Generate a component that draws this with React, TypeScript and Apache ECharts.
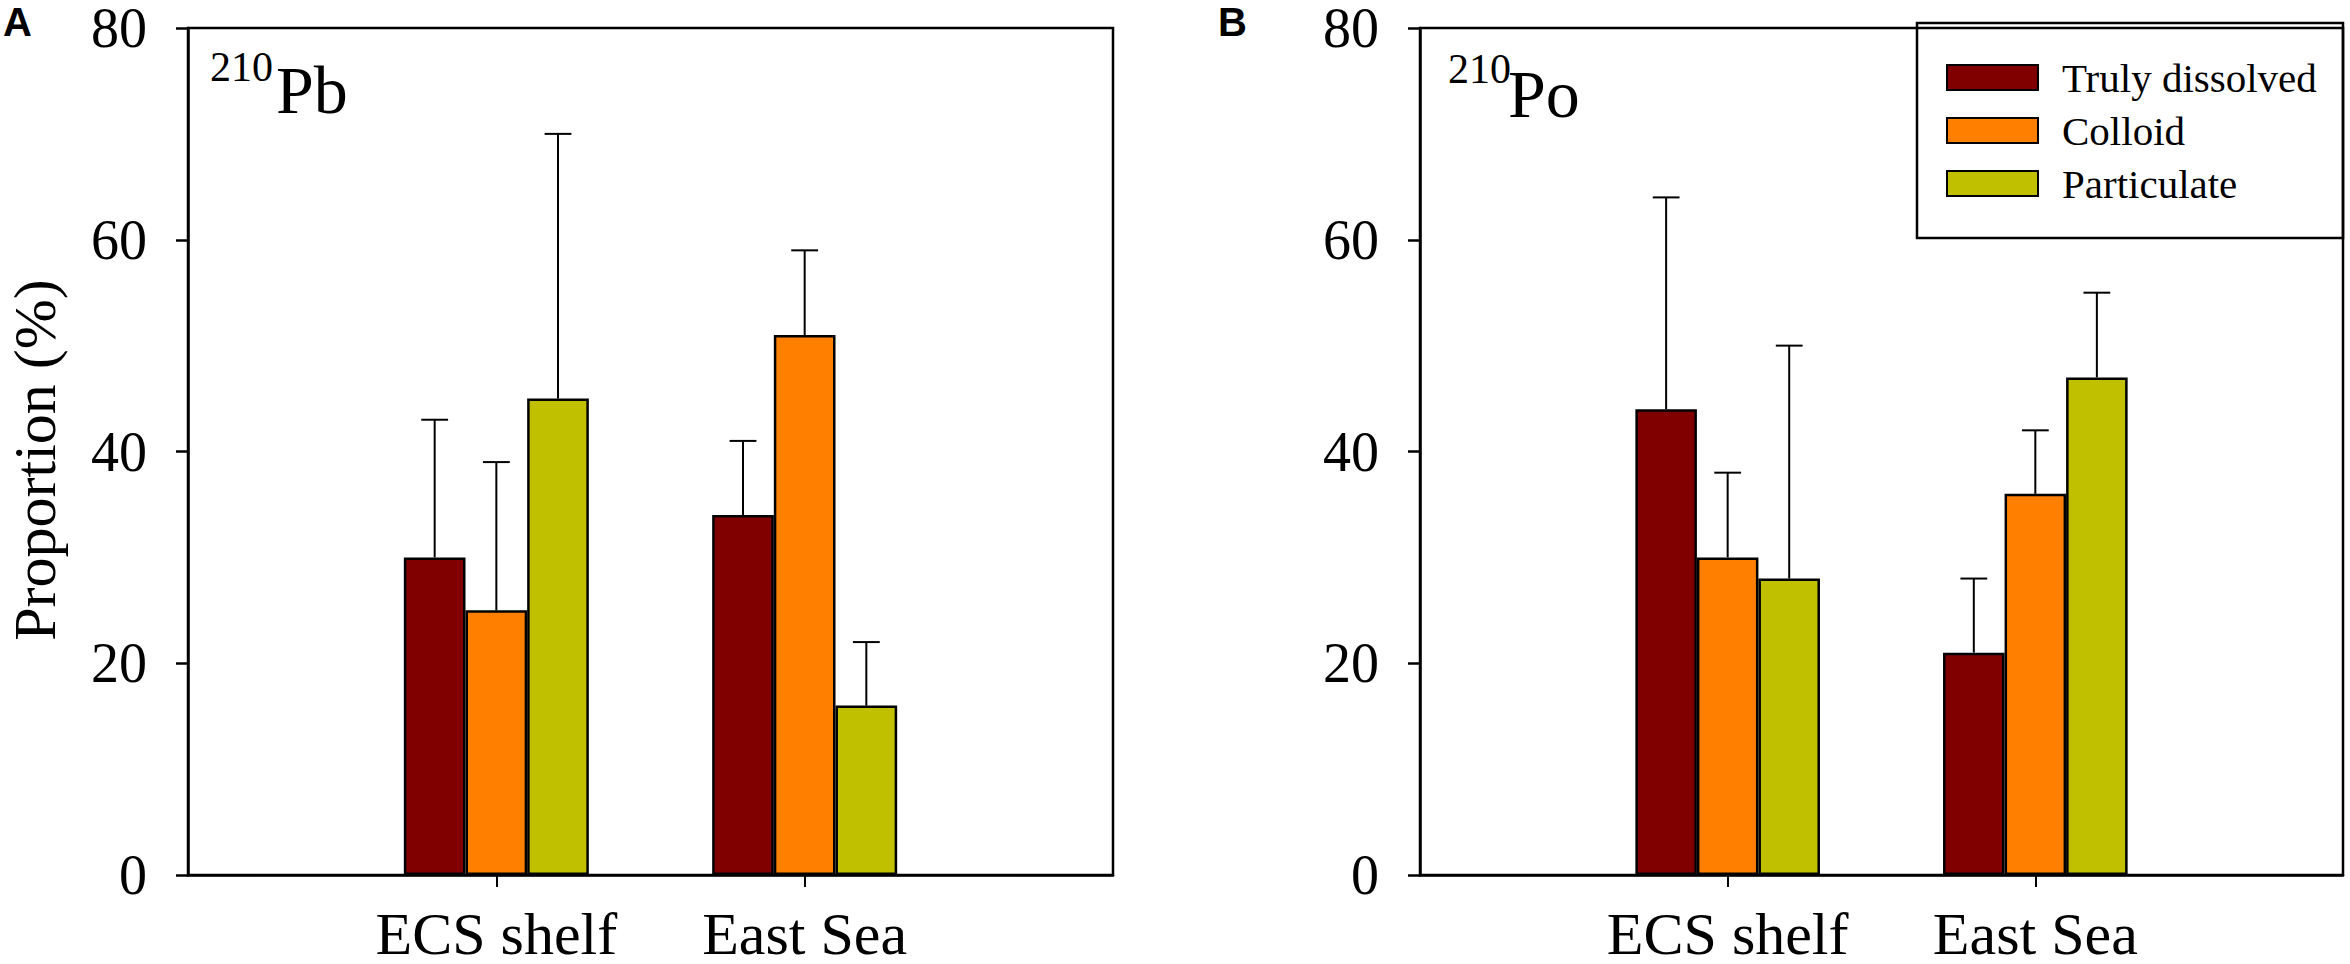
import React, { useEffect, useRef } from "react";
import * as echarts from "echarts";

const categories = ["ECS shelf", "East Sea"];
const seriesNames = ["Truly dissolved", "Colloid", "Particulate"];
const seriesColors = ["#800000", "#FF8000", "#C0C000"];

// 210Pb panel (A)
const pbTruly = [30, 34];
const pbColloid = [25, 51];
const pbParticulate = [45, 16];
const pbTrulyErr = [13, 7];
const pbColloidErr = [14, 8];
const pbParticulateErr = [25, 6];

// 210Po panel (B)
const poTruly = [44, 21];
const poColloid = [30, 36];
const poParticulate = [28, 47];
const poTrulyErr = [20, 7];
const poColloidErr = [8, 6];
const poParticulateErr = [22, 8];

const yTicks = [0, 20, 40, 60, 80];

const SERIF = "Liberation Serif";
const SANS = "Liberation Sans";

const catData = ["", ...categories, ""];

function padSeries(vals: number[]) {
  return ["-", ...vals, "-"];
}

function errData(means: number[][], errs: number[][]) {
  const out: number[][] = [];
  means.forEach((m, k) => {
    m.forEach((v, i) => {
      out.push([i + 1, k, v, v + errs[k][i]]);
    });
  });
  return out;
}

function renderErr(params: any, api: any) {
  const cat = api.value(0);
  const k = api.value(1);
  const v = api.value(2);
  const hi = api.value(3);
  const bw = api.size([1, 0])[0];
  const base = api.coord([cat, v]);
  const top = api.coord([cat, hi]);
  const x = base[0] + (k - 1) * bw * 0.2;
  const half = bw * 0.0435;
  const st = { stroke: "#000", lineWidth: 2 };
  return {
    type: "group",
    children: [
      { type: "line", shape: { x1: x, y1: base[1], x2: x, y2: top[1] }, style: st },
      { type: "line", shape: { x1: x - half, y1: top[1], x2: x + half, y2: top[1] }, style: st },
    ],
  };
}

export default function App() {
  const ref = useRef<HTMLDivElement>(null);
  useEffect(() => {
    if (!ref.current) return;
    const chart = echarts.init(ref.current, undefined, { renderer: "svg" });

    const grids = [
      { left: 188, top: 23, width: 925, height: 857 },
      { left: 1420, top: 23, width: 923, height: 857 },
    ];

    const xLabelStyle = { color: "#000", fontSize: 60, fontFamily: SERIF, fontWeight: "normal", lineHeight: 44 };
    const yLabelStyle = { color: "#000", fontSize: 56, fontFamily: SERIF, fontWeight: "normal", lineHeight: 40 };

    const xAxis = [0, 1].map((gi) => ({
      type: "category",
      gridIndex: gi,
      data: catData.map((c) => ({ value: c, textStyle: xLabelStyle })),
      boundaryGap: false,
      axisLine: { show: true, lineStyle: { color: "#000", width: 2.5 } },
      axisTick: {
        show: true,
        inside: false,
        length: 12,
        interval: (idx: number) => idx === 1 || idx === 2,
        lineStyle: { color: "#000", width: 2 },
      },
      axisLabel: {
        interval: (idx: number) => idx === 1 || idx === 2,
        margin: 37,
        ...xLabelStyle,
      },
      splitLine: { show: false },
    }));

    const yAxis = [0, 1].map((gi) => ({
      type: "value",
      gridIndex: gi,
      min: yTicks[0],
      max: yTicks[yTicks.length - 1],
      interval: 20,
      axisLine: { show: true, lineStyle: { color: "#000", width: 2.5 } },
      axisTick: { show: true, inside: false, length: 12, lineStyle: { color: "#000", width: 2.5 } },
      axisLabel: { margin: 41, ...yLabelStyle },
      splitLine: { show: false },
    }));

    const panels = [
      { means: [pbTruly, pbColloid, pbParticulate], errs: [pbTrulyErr, pbColloidErr, pbParticulateErr] },
      { means: [poTruly, poColloid, poParticulate], errs: [poTrulyErr, poColloidErr, poParticulateErr] },
    ];

    const series: any[] = [];
    panels.forEach((p, gi) => {
      p.means.forEach((m, k) => {
        series.push({
          type: "bar",
          name: seriesNames[k],
          xAxisIndex: gi,
          yAxisIndex: gi,
          data: padSeries(m),
          barWidth: "20%",
          barGap: "0%",
          itemStyle: { color: seriesColors[k], borderColor: "#000", borderWidth: 2.5 },
          z: 2,
        });
      });
      series.push({
        type: "custom",
        xAxisIndex: gi,
        yAxisIndex: gi,
        data: errData(p.means, p.errs),
        encode: { x: 0, y: [2, 3] },
        renderItem: renderErr,
        z: 3,
        silent: true,
      });
    });

    const option: any = {
      animation: false,
      backgroundColor: "#fff",
      textStyle: { fontFamily: SERIF, fontWeight: "normal" },
      grid: grids.map((g) => ({ ...g, show: true, borderColor: "#000", borderWidth: 2.5, containLabel: false })),
      xAxis,
      yAxis,
      legend: {
        data: seriesNames,
        orient: "vertical",
        left: 1946,
        top: 57,
        itemWidth: 91,
        itemHeight: 25,
        itemGap: 12,
        icon: "rect",
        padding: 0,
        selectedMode: false,
        textStyle: { fontSize: 41, fontFamily: SERIF, fontWeight: "normal", color: "#000", padding: [0, 0, 0, 19] },
      },
      graphic: [
        {
          type: "rect",
          shape: { x: 1917, y: 23, width: 426, height: 215 },
          style: { fill: "none", stroke: "#000", lineWidth: 2.5 },
          z: 10,
        },
        { type: "text", x: 3, y: 22, style: { text: "A", fontSize: 40, fontWeight: "bold", fontFamily: SANS, fill: "#000", verticalAlign: "middle", align: "left" } },
        { type: "text", x: 1218, y: 22, style: { text: "B", fontSize: 40, fontWeight: "bold", fontFamily: SANS, fill: "#000", verticalAlign: "middle", align: "left" } },
        { type: "text", x: 210, y: 66.5, style: { text: "210", fontSize: 42, fontFamily: SERIF, fill: "#000", verticalAlign: "middle", align: "left" } },
        { type: "text", x: 276, y: 90, style: { text: "Pb", fontSize: 68, fontFamily: SERIF, fill: "#000", verticalAlign: "middle", align: "left" } },
        { type: "text", x: 1448, y: 69, style: { text: "210", fontSize: 42, fontFamily: SERIF, fill: "#000", verticalAlign: "middle", align: "left" } },
        { type: "text", x: 1508, y: 94, style: { text: "Po", fontSize: 68, fontFamily: SERIF, fill: "#000", verticalAlign: "middle", align: "left" } },
        {
          type: "text",
          x: 35,
          y: 460,
          rotation: Math.PI / 2,
          style: { text: "Proportion (%)", fontSize: 60, fontFamily: SERIF, fill: "#000", verticalAlign: "middle", align: "center" },
        },
      ],
      series,
    };

    chart.setOption(option);
    return () => chart.dispose();
  }, []);

  return <div ref={ref} style={{ position: "absolute", left: 0, top: 0, width: 2350, height: 964 }} />;
}
